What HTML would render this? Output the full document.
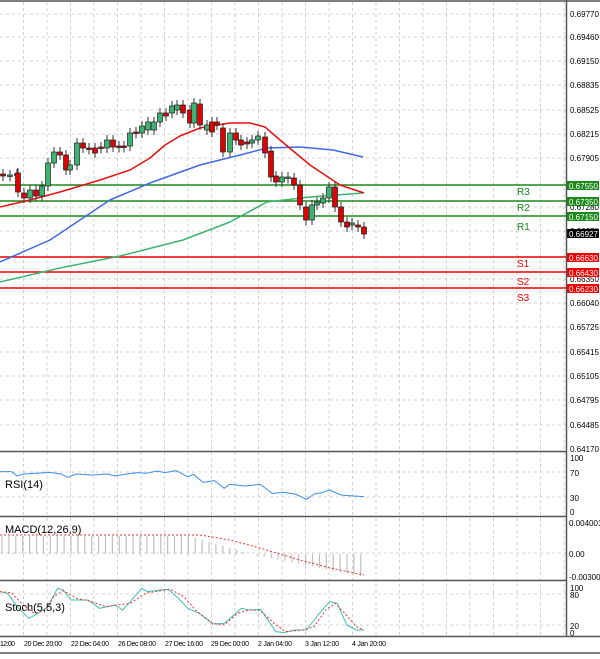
<!DOCTYPE html>
<html><head><meta charset="utf-8"><style>
body{margin:0;background:#fff;width:600px;height:654px;overflow:hidden;font-family:"Liberation Sans",sans-serif}
svg text{font-family:"Liberation Sans",sans-serif}
</style></head><body>
<svg id="s" width="600" height="654" xmlns="http://www.w3.org/2000/svg">
<rect width="600" height="654" fill="#fff"/>
<g id="grid" stroke="#d0d0d0" stroke-dasharray="3,3" stroke-width="1"></g>
<g id="plot" stroke-linejoin="round"></g>
<g font-size="8" fill="#000">
<text x="570" y="17">0.69770</text><text x="570" y="40">0.69460</text><text x="570" y="64">0.69150</text>
<text x="570" y="88">0.68835</text><text x="570" y="113">0.68525</text><text x="570" y="137">0.68215</text>
<text x="570" y="161">0.67905</text><text x="570" y="210">0.67280</text><text x="570" y="234">0.66970</text>
<text x="570" y="282">0.66350</text><text x="570" y="306">0.66040</text><text x="570" y="330">0.65725</text>
<text x="570" y="355">0.65415</text><text x="570" y="379">0.65105</text><text x="570" y="403">0.64795</text>
<text x="570" y="428">0.64485</text><text x="570" y="452">0.64170</text>
<text x="570" y="461">100</text><text x="570" y="476">70</text><text x="570" y="501">30</text><text x="570" y="515">0</text>
<text x="569" y="526">0.004001</text><text x="569" y="557">0.00</text><text x="569" y="580">-0.003001</text>
<text x="570" y="591">100</text><text x="570" y="598">80</text><text x="570" y="629">20</text><text x="570" y="636">0</text>
</g>
<g font-size="7" fill="#000">
<text x="0" y="646" textLength="15">12:00</text><text x="24" y="646" textLength="38">20 Dec 20:00</text><text x="71" y="646" textLength="38">22 Dec 04:00</text>
<text x="118" y="646" textLength="38">26 Dec 08:00</text><text x="165" y="646" textLength="38">27 Dec 16:00</text><text x="211" y="646" textLength="38">29 Dec 00:00</text>
<text x="258" y="646" textLength="34">2 Jan 04:00</text><text x="305" y="646" textLength="34">3 Jan 12:00</text><text x="352" y="646" textLength="34">4 Jan 20:00</text>
</g>
<g font-size="11" fill="#000"><text x="5" y="488">RSI(14)</text><text x="5" y="533">MACD(12,26,9)</text><text x="5" y="611">Stoch(5,5,3)</text></g>
<g font-size="10">
<text x="517" y="195" fill="#1a8a1a">R3</text><text x="517" y="211" fill="#1a8a1a">R2</text><text x="517" y="230" fill="#1a8a1a">R1</text>
<text x="517" y="267" fill="#e00">S1</text><text x="517" y="285" fill="#e00">S2</text><text x="517" y="301" fill="#e00">S3</text>
</g>
<g font-size="8" fill="#fff">
<rect x="567" y="181" width="32" height="9" fill="#1a8a1a"/><text x="569" y="189">0.67550</text>
<rect x="567" y="197" width="32" height="9" fill="#1a8a1a"/><text x="569" y="205">0.67350</text>
<rect x="567" y="212" width="32" height="9" fill="#1a8a1a"/><text x="569" y="220">0.67150</text>
<rect x="567" y="229" width="32" height="9" fill="#000"/><text x="569" y="237">0.66927</text>
<rect x="567" y="253" width="32" height="9" fill="#e00"/><text x="569" y="261">0.66630</text>
<rect x="567" y="268" width="32" height="9" fill="#e00"/><text x="569" y="276">0.66430</text>
<rect x="567" y="284" width="32" height="9" fill="#e00"/><text x="569" y="292">0.66230</text>
</g>
<g stroke="#555" fill="none" stroke-width="1.5">
<line x1="0" y1="1" x2="600" y2="1"/>
<line x1="566.5" y1="0" x2="566.5" y2="637"/>
<line x1="0" y1="451.5" x2="566" y2="451.5"/>
<line x1="0" y1="516.5" x2="566" y2="516.5"/>
<line x1="0" y1="580.5" x2="566" y2="580.5"/>
<line x1="0" y1="636.5" x2="600" y2="636.5"/>
<line x1="0" y1="653" x2="600" y2="653"/>
</g>
</svg>
<script>
var NS="http://www.w3.org/2000/svg",P=document.getElementById('plot'),G=document.getElementById('grid');
function el(t,a,p){var e=document.createElementNS(NS,t);for(var k in a)e.setAttribute(k,a[k]);(p||P).appendChild(e);return e;}
for(var x=23.5;x<566;x+=23.5){el('line',{x1:x,y1:2,x2:x,y2:451},G);el('line',{x1:x,y1:452,x2:x,y2:636},G);}
[14,37,61,85,110,134,158,207,231,279,303,327,352,376,400,425].forEach(function(y){el('line',{x1:0,y1:y,x2:566,y2:y},G)});
[472,497,553,594,625].forEach(function(y){el('line',{x1:0,y1:y,x2:566,y2:y},G)});
[[185,'#1a8a1a'],[201,'#1a8a1a'],[216,'#1a8a1a'],[257,'#e00'],[272,'#e00'],[288,'#e00']].forEach(function(l){el('line',{x1:0,y1:l[0],x2:566,y2:l[0],stroke:l[1],'stroke-width':1.5})});
function pl(pts,c,w,d){el('polyline',{points:pts.map(function(p){return p.join(',')}).join(' '),fill:'none',stroke:c,'stroke-width':w||1.5,'stroke-dasharray':d||'none'});}
pl([[0,282],[60,268],[120,256],[183,240],[230,222],[267,202],[310,197],[363,193]],'#3cb371',1.5);
pl([[0,262],[50,240],[80,220],[110,200],[150,183],[200,165],[240,155],[267,148],[300,147],[333,150],[363,157]],'#4169e1',1.5);
pl([[0,207],[30,200],[60,192],[100,180],[130,170],[150,158],[165,145],[180,136],[200,128],[230,123],[250,123],[265,127],[280,140],[310,165],[340,185],[364,193]],'#e81010',1.5);
var C=[[3,174,176],[10,176,175],[17,175,174],[18,173,192],[24,193,198],[30,198,190],[36,190,196],[42,196,186],[48,186,163],[54,163,152],[60,152,155],[66,155,170],[70,170,165],[77,165,143],[83,143,148],[89,148,149],[95,148,153],[101,147,148],[107,148,140],[113,140,147],[119,146,147],[124,146,147],[130,146,133],[136,132,133],[142,133,126],[148,130,122],[154,130,122],[160,122,113],[166,113,116],[172,113,106],[177,110,105],[183,105,113],[190,110,123],[194,123,103],[200,104,125],[207,130,125],[212,122,132],[217,122,125],[223,128,152],[230,152,133],[236,133,140],[241,140,145],[247,142,144],[252,143,140],[258,140,136],[265,137,153],[271,151,177],[276,176,182],[282,182,177],[288,178,177],[294,178,185],[300,185,205],[306,207,220],[312,220,205],[317,205,202],[323,203,198],[329,198,187],[335,187,207],[341,207,222],[347,222,227],[352,225,223],[358,225,227],[364,227,234]];
C.forEach(function(c){var t=Math.min(c[1],c[2]),b=Math.max(c[1],c[2]);if(b-t<1.5)b=t+1.5;
el('line',{x1:c[0],y1:t-5,x2:c[0],y2:b+5,stroke:'#333','stroke-width':1});
el('rect',{x:c[0]-2.5,y:t,width:5,height:b-t,fill:c[2]<c[1]?'#3cb371':'#e00000',stroke:'#222','stroke-width':0.7});});
function cv(a){return a.map(function(p){return [p[0]/2.61,p[1]/3+450]})}
pl(cv([[0,65],[30,65],[45,78],[60,72],[90,70],[130,67],[160,72],[175,82],[200,72],[240,75],[280,72],[300,78],[330,72],[360,68],[380,70],[410,63],[430,68],[460,62],[490,80],[505,73],[530,97],[560,92],[585,115],[600,103],[640,108],[680,103],[710,130],[740,127],[770,132],[800,148],[820,132],[840,128],[860,120],[890,135],[910,137],[950,140]]),'#3d8fe8',1);
for(var x=2;x<=364;x+=6.9){var v;if(x<190)v=-18;else if(x<250)v=-18+(x-190)*0.3;else v=(x-250)/114*23;
el('line',{x1:x,y1:554,x2:x,y2:554+v,stroke:'#c0c0c0','stroke-width':1.2});}
pl([[0,535],[200,535],[230,540],[260,548],[300,560],[330,568],[364,575]],'#e33',1,'2,2');
pl(cv([[0,425],[20,430],[45,470],[75,505],[100,490],[125,470],[150,415],[165,420],[185,450],[230,450],[260,475],[300,465],[320,480],[340,455],[370,415],[385,425],[420,420],[440,418],[470,450],[490,475],[520,490],[555,522],[585,520],[630,475],[650,480],[680,478],[720,545],[740,548],[770,540],[800,540],[830,495],[860,455],[880,460],[905,525],[930,540],[950,540]]),'#40c0b0',1);
pl(cv([[0,425],[30,428],[60,465],[90,490],[120,480],[140,440],[165,422],[200,445],[240,455],[275,470],[310,465],[340,460],[380,430],[420,422],[445,418],[480,440],[510,480],[555,520],[585,525],[620,490],[650,480],[680,482],[715,520],[745,545],[790,540],[820,530],[850,480],[875,460],[900,490],[930,530],[950,540]]),'#e33',1,'2,2');
</script>
</body></html>
